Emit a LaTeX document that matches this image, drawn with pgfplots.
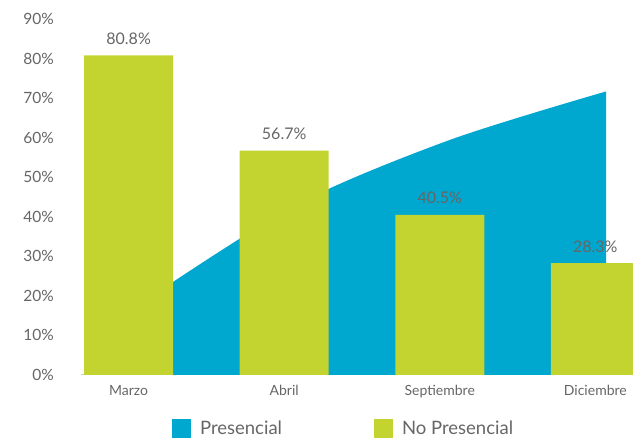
\documentclass[border=0pt]{standalone}
\usepackage{fontspec}
\setmainfont{Lato}
\usepackage{pgfplots}
\pgfplotsset{compat=1.18}
\definecolor{pres}{HTML}{00A7CF}
\definecolor{nopres}{HTML}{C3D430}
\definecolor{txt}{HTML}{666666}
\begin{document}
\begin{tikzpicture}
\useasboundingbox (-81pt,-69pt) rectangle (552pt,375pt);
\begin{axis}[
  at={(0pt,0pt)}, anchor=south west,
  scale only axis, width=552pt, height=356pt,
  xmin=-0.306, xmax=3.242, ymin=0, ymax=90,
  xtick={0,1,2,3},
  xticklabels={Marzo,Abril,Septiembre,Diciembre},
  ytick={0,10,...,90},
  yticklabel={\pgfmathprintnumber{\tick}\%},
  /pgf/number format/assume math mode=true,
  axis x line*=bottom, axis y line*=left,
  x axis line style={-, draw=black!20, line width=1pt},
  y axis line style={draw=none},
  major tick length=0pt,
  tick style={draw=none},
  yticklabel style={anchor=east, inner sep=0pt, xshift=-27pt, font=\fontsize{15.5}{18}\selectfont, text=txt},
  xticklabel style={anchor=base, inner sep=0pt, yshift=-21pt, font=\fontsize{14}{16}\selectfont, text=txt},
  legend columns=2,
  legend style={draw=none, fill=none, inner sep=0pt, outer sep=0pt,
    at={(axis description cs:0.165,-0.151)}, anchor=west,
    font=\fontsize{18.5}{20}\selectfont, text=txt,
    /tikz/every odd column/.append style={column sep=7pt},
    /tikz/every even column/.append style={column sep=90pt}},
]
\addplot[fill=pres, draw=none, smooth,
  legend image code/.code={\fill[pres] (0pt,-9.5pt) rectangle (19pt,9.5pt);}]
  coordinates {(0.12,19.2) (1.09,43.3) (2.07,59.5) (3.07,71.7)} \closedcycle;
\addlegendentry{Presencial}
\addplot[ybar, bar width=89pt, fill=nopres, draw=none,
  nodes near coords={\pgfmathprintnumber[fixed,precision=1,zerofill]{\pgfplotspointmeta}\%},
  nodes near coords style={anchor=south, inner sep=0pt, yshift=10.5pt, font=\fontsize{16}{18}\selectfont, text=txt},
  legend image code/.code={\fill[nopres] (0pt,-9.5pt) rectangle (19pt,9.5pt);}]
  coordinates {(0,80.8) (1,56.7) (2,40.5) (3,28.3)};
\addlegendentry{No Presencial}
\end{axis}
\end{tikzpicture}
\end{document}
